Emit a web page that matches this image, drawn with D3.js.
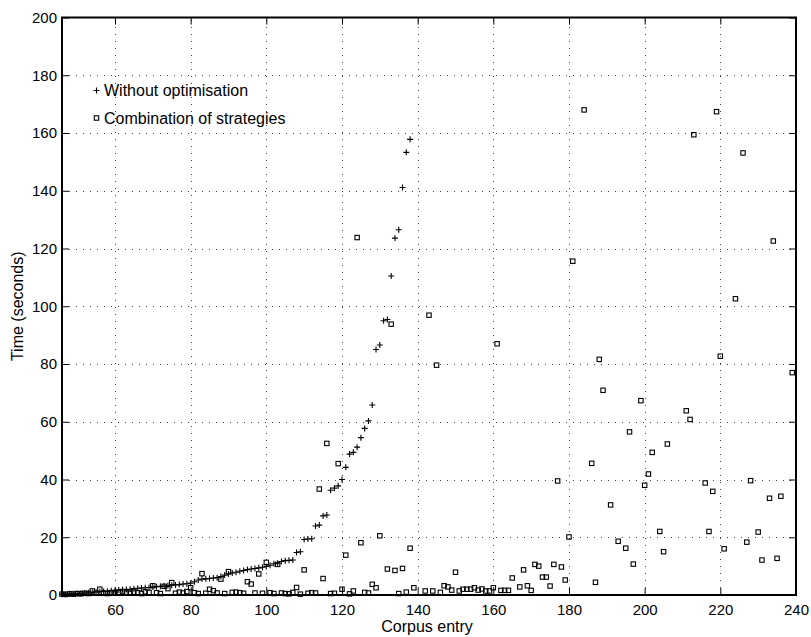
<!DOCTYPE html>
<html>
<head>
<meta charset="utf-8">
<script src="https://cdn.jsdelivr.net/npm/d3@7/dist/d3.min.js"></script>
<style>
  body { margin: 0; background: #fff; }
  svg { display: block; }
  text { font-family: "Liberation Sans", Arial, Helvetica, sans-serif; }
</style>
</head>
<body>
<div id="chart"></div>
<script>
// ---------- data ----------
const seriesNames = ["Without optimisation", "Combination of strategies"];

// Without optimisation (+)
const plusX = [46,47,48,49,50,51,52,53,54,55,56,57,58,59,60,61,62,63,64,65,66,67,68,69,70,
  71,72,73,74,75,76,77,78,79,80,81,82,83,84,85,86,87,88,89,90,91,92,93,94,95,96,97,98,99,100,
  101,102,103,104,105,106,107,108,109,110,111,112,113,114,115,116,117,118,119,120,
  121,122,123,124,125,126,127,128,129,130,131,132,133,134,135,136,137,138];
const plusY = [0.3,0.3,0.4,0.4,0.5,0.6,0.7,0.8,0.9,1.0,1.1,1.2,1.3,1.5,1.6,1.7,1.8,1.9,2.0,2.2,2.3,2.4,2.5,2.6,2.8,
  2.9,3.0,3.1,3.3,3.4,3.5,3.6,3.8,3.9,4.1,4.6,5.2,5.5,5.6,5.7,5.9,6.0,6.4,6.9,7.3,7.6,7.9,8.2,8.5,8.8,9.0,9.2,9.4,9.6,9.9,
  10.3,10.8,11.0,11.6,11.9,12.0,12.1,14.7,15.0,19.2,19.4,19.5,23.9,24.2,27.4,27.7,36.3,37.0,37.8,40.0,
  44.2,48.8,49.4,51.2,54.5,57.7,60.3,65.8,85.0,86.6,95.0,95.4,110.5,123.6,126.5,141.1,153.3,157.8];

// Combination of strategies (squares)
const sqX = [46,47,48,49,50,51,52,53,54,55,56,57,58,59,60,61,62,63,64,65,66,67,68,69,70,
  71,72,73,74,75,76,77,78,79,80,81,82,83,84,85,86,87,88,89,90,91,92,93,94,95,96,97,98,99,100,
  101,102,103,104,105,106,107,108,109,110,111,112,113,114,115,116,117,118,119,120,
  121,122,123,124,125,126,127,128,129,130,132,133,134,135,136,137,138,139,
  142,143,144,145,146,147,148,149,150,151,152,153,154,155,156,157,158,159,160,161,162,163,164,165,167,168,169,
  170,171,172,173,174,175,176,177,178,179,180,181,184,186,187,188,189,191,193,195,196,197,199,200,
  201,202,204,205,206,211,212,213,216,217,218,219,220,221,224,226,227,228,230,231,233,234,235,236,239];
const sqY = [0.3,0.2,0.4,0.3,0.5,0.4,0.6,0.5,1.4,0.6,2.0,0.7,0.5,0.8,0.6,0.9,1.2,0.7,0.6,1.0,0.8,0.5,1.1,0.9,3.2,
  0.8,0.5,3.0,2.2,4.3,0.6,1.0,0.7,1.2,2.5,0.8,0.5,7.4,0.6,2.0,1.5,0.7,5.5,0.5,8.1,0.9,1.0,0.8,0.6,4.6,3.8,0.7,7.3,0.6,11.3,
  0.8,0.5,10.6,0.7,0.5,0.4,0.9,2.6,0.3,8.7,0.6,0.8,0.7,36.7,5.7,52.5,0.5,0.6,45.5,2.0,
  13.8,0.4,1.4,123.8,18.1,0.9,0.7,3.7,2.5,20.5,9.0,93.8,8.5,0.5,9.2,1.0,16.2,2.5,
  1.4,96.9,1.4,79.6,0.9,3.2,2.8,1.7,7.9,1.4,2.0,2.0,2.0,2.5,1.7,2.1,1.4,1.4,2.5,87.0,1.6,1.6,1.6,5.9,2.8,8.7,3.2,
  1.6,10.6,10.0,6.2,6.2,3.1,10.6,39.5,9.7,5.2,20.1,115.6,168.0,45.6,4.4,81.6,70.9,31.2,18.6,16.2,56.5,10.7,67.3,38.0,
  41.9,49.4,22.0,15.0,52.3,63.8,60.8,159.4,38.8,22.0,35.9,167.4,82.7,16.0,102.6,153.1,18.3,39.6,21.8,12.1,33.5,122.6,12.7,34.2,77.0];

const xTicks = [60,80,100,120,140,160,180,200,220,240];
const yTicks = [0,20,40,60,80,100,120,140,160,180,200];
const xDomain = [46, 240];
const yDomain = [0, 200];
const xTitle = "Corpus entry";
const yTitle = "Time (seconds)";

// ---------- layout ----------
const W = 811, H = 637;
const pL = 62, pR = 796, pT = 17.5, pB = 595;

const svg = d3.select("#chart").append("svg").attr("width", W).attr("height", H);

const x = d3.scaleLinear().domain(xDomain).range([pL, pR]);
const y = d3.scaleLinear().domain(yDomain).range([pB, pT]);

// grid
const grid = svg.append("g").attr("stroke", "#444").attr("stroke-width", 1)
  .attr("stroke-dasharray", "1,6").attr("fill", "none");
grid.selectAll(".gx").data(xTicks.filter(t => t < xDomain[1])).enter().append("line")
  .attr("x1", d => Math.round(x(d)) + 0.5).attr("x2", d => Math.round(x(d)) + 0.5)
  .attr("y1", pB).attr("y2", pT);
grid.selectAll(".gy").data(yTicks.filter(t => t > 0 && t < 200)).enter().append("line")
  .attr("y1", d => Math.round(y(d)) + 0.5).attr("y2", d => Math.round(y(d)) + 0.5)
  .attr("x1", pL).attr("x2", pR);

// axes
const fmt = d3.format("d");
const axB = svg.append("g").attr("transform", `translate(0,${pB})`)
  .call(d3.axisBottom(x).tickValues(xTicks).tickFormat(fmt).tickSizeInner(-7).tickSizeOuter(0).tickPadding(9));
const axT = svg.append("g").attr("transform", `translate(0,${pT})`)
  .call(d3.axisTop(x).tickValues(xTicks).tickFormat("").tickSizeInner(-7).tickSizeOuter(0));
const axL = svg.append("g").attr("transform", `translate(${pL},0)`)
  .call(d3.axisLeft(y).tickValues(yTicks).tickFormat(fmt).tickSizeInner(-7).tickSizeOuter(0).tickPadding(5));
const axR = svg.append("g").attr("transform", `translate(${pR},0)`)
  .call(d3.axisRight(y).tickValues(yTicks).tickFormat("").tickSizeInner(-7).tickSizeOuter(0));
[axB, axT, axL, axR].forEach(a => {
  a.select(".domain").remove();
  a.selectAll(".tick line").attr("stroke", "#000").attr("stroke-width", 1);
  a.selectAll("text").attr("font-size", 15).attr("fill", "#000")
    .attr("font-family", '"Liberation Sans", Arial, sans-serif');
});

// frame
svg.append("rect").attr("x", pL).attr("y", pT).attr("width", pR - pL).attr("height", pB - pT)
  .attr("fill", "none").attr("stroke", "#000").attr("stroke-width", 2);

// titles
svg.append("text").attr("x", (pL + pR) / 2 - 2).attr("y", 632).attr("text-anchor", "middle")
  .attr("font-size", 16).text(xTitle);
svg.append("text").attr("transform", `translate(23,${(pT + pB) / 2}) rotate(-90)`)
  .attr("text-anchor", "middle").attr("font-size", 16).text(yTitle);

// marks
const plusData = plusX.map((v, i) => ({x: v, y: plusY[i]}));
const sqData = sqX.map((v, i) => ({x: v, y: sqY[i]}));

const plusPath = "M-3,0H3M0,-3V3";
svg.append("g").selectAll("path").data(plusData).enter().append("path")
  .attr("transform", d => `translate(${x(d.x)},${y(d.y)})`)
  .attr("d", plusPath).attr("stroke", "#000").attr("stroke-width", 1.1).attr("fill", "none");

const s = 4.4;
svg.append("g").selectAll("rect").data(sqData).enter().append("rect")
  .attr("x", d => x(d.x) - s / 2).attr("y", d => y(d.y) - s / 2)
  .attr("width", s).attr("height", s)
  .attr("fill", "none").attr("stroke", "#000").attr("stroke-width", 1.1);

// legend
const legend = svg.append("g");
legend.append("path").attr("transform", "translate(96.5,90.5)").attr("d", plusPath)
  .attr("stroke", "#000").attr("stroke-width", 1.1).attr("fill", "none");
legend.append("text").attr("x", 104).attr("y", 96).attr("font-size", 16).text(seriesNames[0]);
legend.append("rect").attr("x", 96.5 - s / 2).attr("y", 118 - s / 2).attr("width", s).attr("height", s)
  .attr("fill", "none").attr("stroke", "#000").attr("stroke-width", 1.1);
legend.append("text").attr("x", 104).attr("y", 124).attr("font-size", 16).text(seriesNames[1]);
</script>
</body>
</html>
